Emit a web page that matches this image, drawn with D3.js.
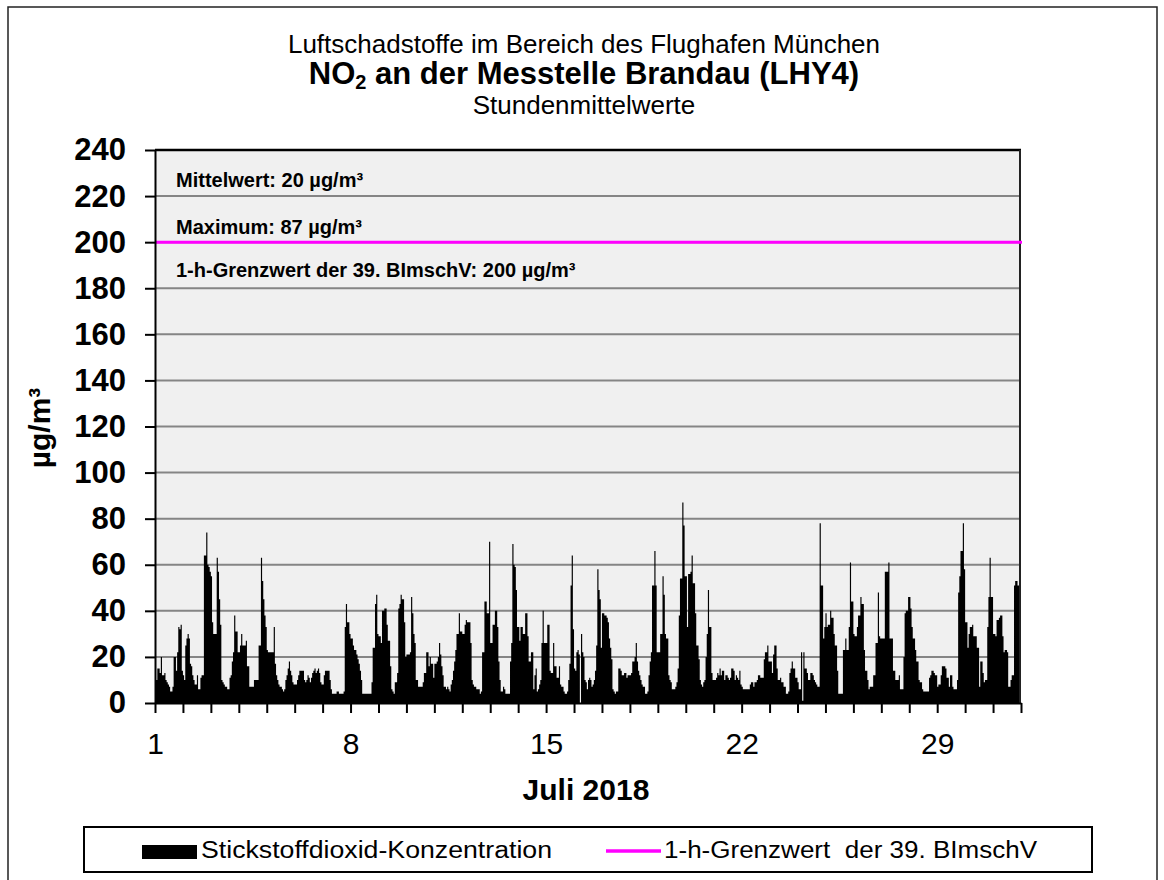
<!DOCTYPE html>
<html>
<head>
<meta charset="utf-8">
<script src="https://cdn.jsdelivr.net/npm/d3@7"></script>
<style>
  body { margin: 0; background: #fff; }
  svg text { font-family: "Liberation Sans", Arial, sans-serif; fill: #000; }
</style>
</head>
<body>
<div id="chart"></div>
<script>
// NO2 Stundenmittelwerte Juli 2018, eine Zeile pro Tag (24 Stunden)
const no2 = [
  10,10,15,15,13,20,12,12,13,10,9,8,7,5,5,7,20,20,14,22,33,32,34,14,
  12,10,25,28,30,28,17,16,12,10,8,8,12,6,6,11,12,12,64,64,74,60,59,57,
  55,35,30,30,30,63,57,45,34,10,9,8,7,7,6,6,11,12,18,22,38,31,31,22,
  22,25,30,25,25,25,27,16,16,7,7,7,7,10,10,10,10,25,25,63,53,45,38,33,
  23,22,22,22,22,22,33,17,12,10,8,7,7,6,5,6,10,12,15,18,14,12,9,8,
  8,8,10,12,14,14,14,14,10,9,10,12,11,9,11,13,14,15,13,14,15,13,9,8,
  8,12,14,14,14,14,10,6,4,4,4,4,5,5,4,4,4,4,5,33,43,35,35,30,
  28,28,25,23,23,21,19,17,14,10,4,4,4,4,4,4,4,4,9,24,24,43,47,30,
  29,29,26,40,40,41,41,34,27,27,16,6,5,4,9,9,13,41,43,47,45,45,35,20,
  21,21,21,22,46,39,30,26,10,10,7,7,7,7,9,13,13,22,22,16,20,17,17,11,
  17,17,18,20,26,21,16,12,7,7,6,7,6,5,8,10,14,18,23,30,30,39,31,31,
  30,30,34,36,35,35,35,26,10,8,7,7,6,6,6,4,5,22,22,44,44,39,39,70,
  26,26,34,34,40,40,33,18,10,5,5,7,6,4,4,4,4,18,26,69,60,59,49,33,
  33,27,33,33,30,30,39,39,29,18,18,22,22,6,12,15,5,6,8,10,26,40,26,26,
  26,34,34,14,13,13,26,16,16,11,11,16,8,7,7,5,4,4,5,10,17,51,64,32,
  15,14,22,23,21,0,30,22,20,10,9,6,10,11,10,7,8,10,14,25,58,49,45,24,
  39,39,38,38,37,35,28,24,19,6,5,4,5,5,15,15,14,12,12,13,13,11,12,12,
  12,13,18,18,20,26,18,14,12,10,8,7,7,4,4,5,12,18,22,51,51,66,51,22,
  22,22,30,30,55,47,30,28,28,12,10,9,6,6,6,7,9,15,38,54,54,87,77,55,
  55,33,56,56,57,64,52,52,39,25,25,19,10,8,7,9,10,20,30,49,33,33,13,10,
  10,10,11,13,12,15,12,14,14,10,12,12,11,10,11,15,15,14,10,12,11,10,14,8,
  7,6,6,6,6,6,6,8,9,9,7,9,9,10,12,12,11,11,11,19,22,22,25,18,
  18,18,13,21,25,25,15,10,10,11,9,9,7,7,4,4,5,13,15,18,15,15,11,11,
  9,6,6,22,1,22,15,15,13,10,10,13,13,12,10,9,8,7,7,78,51,51,28,33,
  39,33,34,34,40,37,37,30,25,25,14,4,4,4,4,23,23,28,23,23,33,61,44,44,
  30,29,29,33,38,38,46,43,43,23,14,14,10,6,7,7,7,12,12,26,26,48,29,28,
  28,28,28,57,57,57,61,28,28,28,14,14,10,10,10,12,6,6,6,20,39,40,40,46,
  46,41,33,28,28,23,18,18,10,9,9,6,5,5,5,5,5,11,12,14,14,13,12,12,
  7,8,8,12,16,16,16,15,11,11,7,12,12,7,6,6,6,10,48,55,66,66,78,58,
  35,35,24,30,33,33,34,29,29,29,24,24,7,18,18,13,9,10,10,33,46,63,46,46,
  30,30,29,36,36,37,38,38,29,22,23,23,22,7,7,10,12,12,51,53,53,51,51,40
];
const grenzwert = 200;
const yTicks = [0, 20, 40, 60, 80, 100, 120, 140, 160, 180, 200, 220, 240];
const tageMitLabel = [1, 8, 15, 22, 29];
const infoTexte = ["Mittelwert: 20 µg/m³", "Maximum: 87 µg/m³", "1-h-Grenzwert der 39. BImschV: 200 µg/m³"];
const legendTexte = ["Stickstoffdioxid-Konzentration", "1-h-Grenzwert  der 39. BImschV"];

const W = 1164, H = 880;
const pLeft = 155, pRight = 1021, pTop = 150, pBottom = 703;

const svg = d3.select("#chart").append("svg")
  .attr("width", W)
  .attr("height", H);

// aeusserer Rahmen
svg.append("rect")
  .attr("x", 8).attr("y", 7)
  .attr("width", 1149).attr("height", 880)
  .attr("fill", "#fff")
  .attr("stroke", "#222").attr("stroke-width", 1.5);

const x = d3.scaleLinear().domain([0, no2.length]).range([pLeft, pRight]);
const y = d3.scaleLinear().domain([0, 240]).range([pBottom, pTop]);

// Plotflaeche
svg.append("rect")
  .attr("x", pLeft).attr("y", pTop)
  .attr("width", 1020 - pLeft).attr("height", pBottom - pTop)
  .attr("fill", "#f0f0f0");

// Gitterlinien
svg.selectAll(".grid")
  .data(yTicks.filter(v => v > 0 && v < 240))
  .enter()
  .append("line")
  .attr("x1", pLeft).attr("x2", 1020)
  .attr("y1", d => y(d)).attr("y2", d => y(d))
  .attr("stroke", "#858585").attr("stroke-width", 2);

// Stundenbalken als Treppenflaeche
const area = d3.area()
  .x((d, i) => x(i))
  .y0(y(0))
  .y1(d => y(d))
  .curve(d3.curveStepAfter);

svg.append("path")
  .datum(no2.concat([no2[no2.length - 1]]))
  .attr("d", area)
  .attr("fill", "#000");

// Rahmen oben und rechts
svg.append("line")
  .attr("x1", pLeft).attr("x2", 1021)
  .attr("y1", pTop).attr("y2", pTop)
  .attr("stroke", "#000").attr("stroke-width", 2.5);
svg.append("line")
  .attr("x1", 1020).attr("x2", 1020)
  .attr("y1", pTop).attr("y2", pBottom)
  .attr("stroke", "#222").attr("stroke-width", 2);

// Grenzwert
svg.append("line")
  .attr("x1", pLeft).attr("x2", 1022)
  .attr("y1", y(grenzwert)).attr("y2", y(grenzwert))
  .attr("stroke", "#ff00ff").attr("stroke-width", 3);

// y-Achse
const yAxis = svg.append("g")
  .attr("transform", `translate(${pLeft},0)`)
  .call(d3.axisLeft(y).tickValues(yTicks).tickSize(10).tickSizeOuter(0).tickPadding(19));
yAxis.select(".domain").attr("stroke", "#000").attr("stroke-width", 2);
yAxis.selectAll(".tick line").attr("stroke", "#000").attr("stroke-width", 2);
yAxis.selectAll(".tick text")
  .style("font-size", "31px").style("font-weight", "bold")
  .attr("font-family", null);

// x-Achse, Striche jeden Tag
const xAxis = svg.append("g")
  .attr("transform", `translate(0,${pBottom})`)
  .call(d3.axisBottom(x)
    .tickValues(d3.range(0, no2.length + 1, 24))
    .tickSize(10).tickSizeOuter(0).tickPadding(20)
    .tickFormat(d => tageMitLabel.includes(d / 24 + 1) ? d / 24 + 1 : ""));
xAxis.select(".domain").attr("stroke", "#000").attr("stroke-width", 2);
xAxis.selectAll(".tick line").attr("stroke", "#000").attr("stroke-width", 2);
xAxis.selectAll(".tick text")
  .style("font-size", "30px")
  .attr("font-family", null);

// Titel
svg.append("text")
  .attr("x", 584).attr("y", 53)
  .attr("text-anchor", "middle")
  .style("font-size", "26px")
  .text("Luftschadstoffe im Bereich des Flughafen München");

const t2 = svg.append("text")
  .attr("x", 584).attr("y", 84)
  .attr("text-anchor", "middle")
  .style("font-size", "31px").style("font-weight", "bold");
t2.append("tspan").text("NO");
t2.append("tspan").attr("dy", 5).style("font-size", "20px").text("2");
t2.append("tspan").attr("dy", -5).text(" an der Messtelle Brandau (LHY4)");

svg.append("text")
  .attr("x", 584).attr("y", 114)
  .attr("text-anchor", "middle")
  .style("font-size", "26px")
  .text("Stundenmittelwerte");

// Info-Texte im Diagramm
svg.selectAll(".info")
  .data(infoTexte)
  .enter()
  .append("text")
  .attr("x", 176)
  .attr("y", (d, i) => [187, 234, 277][i])
  .style("font-size", "20px").style("font-weight", "bold")
  .text(d => d);

// Achsentitel
svg.append("text")
  .attr("transform", "translate(50,428) rotate(-90)")
  .attr("text-anchor", "middle")
  .style("font-size", "30px").style("font-weight", "bold")
  .text("µg/m³");

svg.append("text")
  .attr("x", 586).attr("y", 800)
  .attr("text-anchor", "middle")
  .style("font-size", "30px").style("font-weight", "bold")
  .text("Juli 2018");

// Legende
svg.append("rect")
  .attr("x", 84).attr("y", 827)
  .attr("width", 1008).attr("height", 45)
  .attr("fill", "#fff")
  .attr("stroke", "#000").attr("stroke-width", 2);

svg.append("rect")
  .attr("x", 142).attr("y", 845)
  .attr("width", 55).attr("height", 14)
  .attr("fill", "#000");

svg.append("text")
  .attr("x", 201).attr("y", 858)
  .attr("textLength", 351).attr("lengthAdjust", "spacingAndGlyphs")
  .style("font-size", "23px")
  .text(legendTexte[0]);

svg.append("line")
  .attr("x1", 606).attr("x2", 661)
  .attr("y1", 851).attr("y2", 851)
  .attr("stroke", "#ff00ff").attr("stroke-width", 3.5);

svg.append("text")
  .attr("x", 664).attr("y", 858)
  .attr("textLength", 373).attr("lengthAdjust", "spacingAndGlyphs")
  .style("font-size", "23px")
  .attr("xml:space", "preserve")
  .text(legendTexte[1]);
</script>
</body>
</html>
